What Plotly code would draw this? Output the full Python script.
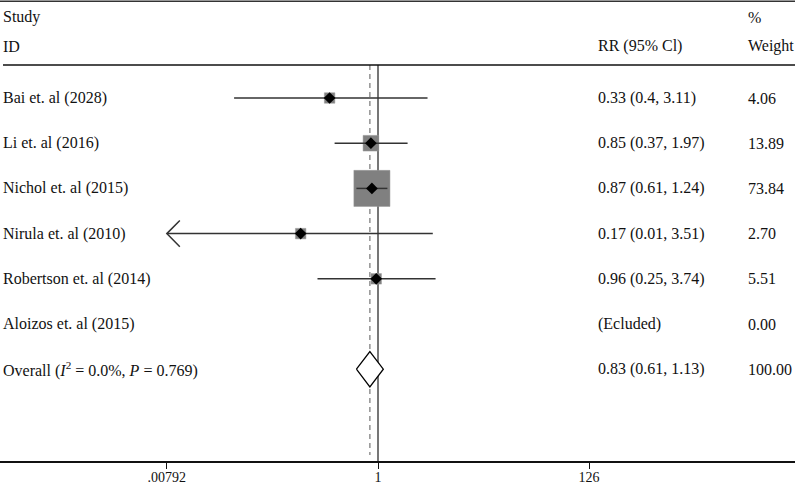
import math
import plotly.graph_objects as go

studies = ["Bai et. al (2028)", "Li et. al (2016)", "Nichol et. al (2015)",
           "Nirula et. al (2010)", "Robertson et. al (2014)", "Aloizos et. al (2015)"]
rr = [0.33, 0.85, 0.87, 0.17, 0.96, None]
lo = [0.037, 0.37, 0.61, 0.0075, 0.25, None]
hi = [3.11, 1.97, 1.24, 3.51, 3.74, None]
rr_text = ["0.33 (0.4, 3.11)", "0.85 (0.37, 1.97)", "0.87 (0.61, 1.24)",
           "0.17 (0.01, 3.51)", "0.96 (0.25, 3.74)", "(Ecluded)"]
weights = [4.06, 13.89, 73.84, 2.70, 5.51, 0.00]
weight_text = ["4.06", "13.89", "73.84", "2.70", "5.51", "0.00"]

overall_label = "Overall (<i>I</i><sup>2</sup> = 0.0%, <i>P</i> = 0.769)"
overall_rr, overall_lo, overall_hi = 0.83, 0.61, 1.13
overall_text = "0.83 (0.61, 1.13)"
overall_weight = "100.00"

tick_vals = [0.00792, 1, 126]
tick_text = [".00792", "1", "126"]
xmin = 0.00792

FONT = "Liberation Serif"
FS = 16
W, H = 795, 485
px_dec = 100.5       # pixels per decade on the x axis
x_one = 378          # pixel of x = 1
y_top = -2.168
y_bottom = 8.03

fig = go.Figure()

# vertical reference lines
fig.add_trace(go.Scatter(x=[1, 1], y=[-0.73, y_bottom], mode="lines",
                         line=dict(color="#555555", width=1.6), hoverinfo="skip", showlegend=False))
fig.add_trace(go.Scatter(x=[overall_rr, overall_rr], y=[-0.73, 7.9], mode="lines",
                         line=dict(color="#8a8a8a", width=1.4, dash="5px,4px"),
                         hoverinfo="skip", showlegend=False))

# boxes (area ~ weight)
for i, (r, w) in enumerate(zip(rr, weights)):
    if r is None:
        continue
    size = max(10.5, 4.2 * math.sqrt(w))
    fig.add_trace(go.Scatter(x=[r], y=[i], mode="markers",
                             marker=dict(symbol="square", size=size, color="#808080",
                                         line=dict(color="#9a9a9a", width=0.5)),
                             hoverinfo="skip", showlegend=False))

# CI lines
for i, (l, h) in enumerate(zip(lo, hi)):
    if l is None:
        continue
    left = max(l, xmin)
    fig.add_trace(go.Scatter(x=[left, h], y=[i, i], mode="lines",
                             line=dict(color="#333333", width=1.5),
                             hoverinfo="skip", showlegend=False))
    if l < xmin:
        f = 10 ** (13 / px_dec)
        fig.add_trace(go.Scatter(x=[xmin * f, xmin, xmin * f], y=[i - 0.29, i, i + 0.29],
                                 mode="lines", line=dict(color="#333333", width=1.5),
                                 hoverinfo="skip", showlegend=False))

# point estimates
xs = [r for r in rr if r is not None]
ys = [i for i, r in enumerate(rr) if r is not None]
fig.add_trace(go.Scatter(x=xs, y=ys, mode="markers",
                         marker=dict(symbol="diamond", size=9, color="black"),
                         hoverinfo="skip", showlegend=False))

# overall diamond
oy = len(studies)
hh = 0.39
fig.add_trace(go.Scatter(x=[overall_lo, overall_rr, overall_hi, overall_rr, overall_lo],
                         y=[oy, oy - hh, oy, oy + hh, oy], mode="lines", fill="toself",
                         fillcolor="white", line=dict(color="black", width=1.3),
                         hoverinfo="skip", showlegend=False))

ann = []
def txt(x, y, s):
    ann.append(dict(x=x, y=y, xref="paper", yref="y", text=s, showarrow=False,
                    xanchor="left", yanchor="middle",
                    font=dict(family=FONT, size=FS, color="#111111")))

x_study = 1 / W
x_rr = 596 / W
x_w = 746 / W
txt(x_study, -1.79, "Study")
txt(x_study, -1.15, "ID")
txt(x_rr, -1.15, "RR (95% Cl)")
txt(x_w, -1.79, "%")
txt(x_w, -1.15, "Weight")
for i, s in enumerate(studies):
    txt(x_study, i, s)
    txt(x_rr, i, rr_text[i])
    txt(x_w, i, weight_text[i])
txt(x_study, oy, overall_label)
txt(x_rr, oy, overall_text)
txt(x_w, oy, overall_weight)

shapes = [
    dict(type="line", xref="paper", yref="y", x0=0, x1=1, y0=-2.14, y1=-2.14,
         line=dict(color="#333333", width=1.5)),
    dict(type="line", xref="paper", yref="y", x0=3 / W, x1=1, y0=-0.73, y1=-0.73,
         line=dict(color="#111111", width=1.5)),
]

fig.update_layout(
    width=W, height=H,
    margin=dict(l=0, r=0, t=0, b=24, autoexpand=False),
    paper_bgcolor="white", plot_bgcolor="white",
    annotations=ann, shapes=shapes,
    xaxis=dict(type="log", range=[-x_one / px_dec, (W - x_one) / px_dec],
               tickvals=tick_vals, ticktext=tick_text, ticks="outside", ticklen=6,
               tickcolor="#111111", showline=True, linecolor="#111111", linewidth=1.5,
               showgrid=False, zeroline=False, automargin=False,
               ticklabelstandoff=-4,
               tickfont=dict(family=FONT, size=14, color="#111111")),
    yaxis=dict(range=[y_bottom, y_top], visible=False, showgrid=False, zeroline=False,
               automargin=False),
)

fig.write_html("out.html", config={"displayModeBar": False},
               post_script="document.body.style.margin='0';document.body.style.padding='0';")
